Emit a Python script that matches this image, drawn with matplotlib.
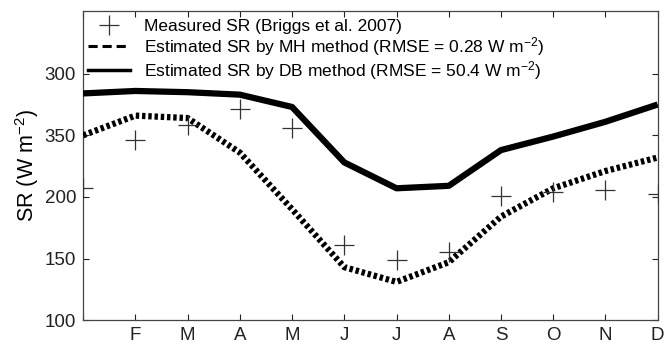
import numpy as np
import matplotlib.pyplot as plt
from matplotlib.lines import Line2D

plt.rcParams['font.family'] = ['Liberation Sans', 'DejaVu Sans']
plt.rcParams['mathtext.fontset'] = 'custom'
plt.rcParams['mathtext.rm'] = 'Liberation Sans'
plt.rcParams['mathtext.default'] = 'regular'

# monthly values
months = np.arange(1, 13)
month_labels = ['', 'F', 'M', 'A', 'M', 'J', 'J', 'A', 'S', 'O', 'N', 'D']
measured = [207, 246, 258, 271, 256, 161, 149, 155, 201, 204, 206, 202]
sr_mh = [250, 266, 264, 236, 190, 143, 131, 147, 184, 207, 221, 232]
sr_db = [284, 286, 285, 283, 273, 228, 207, 209, 238, 249, 261, 275]

y_ticks = [100, 150, 200, 250, 300]
y_tick_labels = ['100', '150', '200', '350', '300']

fig = plt.figure(figsize=(6.65, 3.51), dpi=100)
ax = fig.add_axes([0.125, 0.088, 0.864, 0.881])

ax.plot(months, sr_db, color='black', lw=4.5, solid_capstyle='butt', zorder=3)
ax.plot(months, sr_mh, color='black', lw=4.5, linestyle=(0, (0.55, 0.45)),
        dash_capstyle='butt', zorder=3)
ax.plot(months, measured, linestyle='none', marker='+', markersize=15,
        markeredgewidth=0.9, color='#333333', zorder=4, clip_on=True)

ax.set_xlim(1, 12)
ax.set_ylim(100, 351)
ax.set_xticks(months)
ax.set_xticklabels(month_labels)
ax.set_yticks(y_ticks)
ax.set_yticklabels(y_tick_labels)
ax.tick_params(direction='in', top=True, right=True, length=4, width=0.8,
               labelsize=13.5, pad=5, colors='#222222')
ax.set_ylabel('SR (W m$^{-2}$)', fontsize=15.5, labelpad=3)
for s in ax.spines.values():
    s.set_linewidth(0.9)
    s.set_color('#444444')

handles = [
    Line2D([], [], linestyle='none', marker='+', markersize=15,
           markeredgewidth=0.9, color='#333333'),
    Line2D([], [], color='black', lw=2.2, linestyle=(0, (3.0, 1.6))),
    Line2D([], [], color='black', lw=2.5),
]
labels = [
    'Measured SR (Briggs et al. 2007)',
    'Estimated SR by MH method (RMSE = 0.28 W m$^{-2}$)',
    'Estimated SR by DB method (RMSE = 50.4 W m$^{-2}$)',
]
ax.legend(handles, labels, loc='upper left', frameon=False, fontsize=12.5,
          handlelength=2.4, handletextpad=0.8, labelspacing=0.05,
          borderaxespad=0.0, borderpad=0.3, bbox_to_anchor=(0.0, 0.99))

fig.savefig('out.png', dpi=100)
